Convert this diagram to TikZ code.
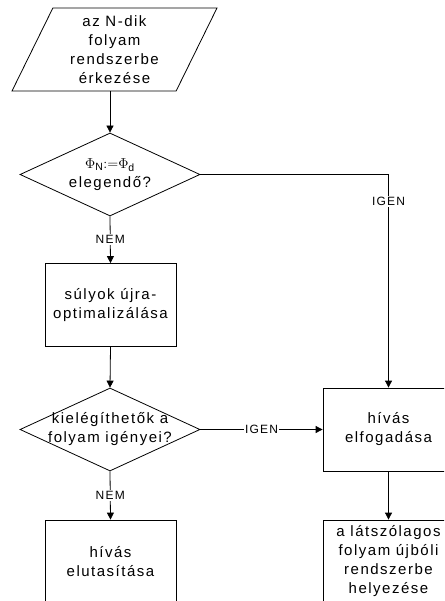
\documentclass[tikz,border=0pt]{standalone}
\usepackage{fontspec}
\setmainfont{Liberation Sans}[LetterSpace=10]
\usetikzlibrary{shapes.geometric,arrows.meta}
\begin{document}
\begin{tikzpicture}[x=1pt, y=-1pt, line width=.8pt, >={Triangle[length=7pt,width=7pt]},
  txt/.style={align=center, font=\fontsize{15}{19}\selectfont},
  box/.style={draw, txt, minimum width=131pt, minimum height=83pt, inner sep=0pt},
  dont/.style={draw, diamond, minimum width=180pt, minimum height=83pt, inner sep=0pt},
  lbl/.style={fill=white, inner sep=1.5pt, font=\fontsize{12}{14}\selectfont}]
  \clip (0,0) rectangle (444,601);
  % bemenet
  \node[draw, trapezium, trapezium left angle=59, trapezium right angle=121,
    trapezium stretches body, minimum width=205pt, minimum height=83pt,
    inner sep=0pt, txt] (erk) at (114.5,49.5) {az N-dik\\folyam\\rendszerbe\\érkezése};
  % dontesek es lepesek
  \node[dont] (q1) at (110,174.5) {};
  \node[txt] (q1t) at (q1) {$\Phi_{\mathrm{N}}{:=}\Phi_{\mathrm{d}}$\\elegendő?};
  \node[box] (opt) at (110.5,305) {súlyok újra-\\optimalizálása};
  \node[dont] (q2) at (110,429.5) {};
  \node[txt] (q2t) at (q2) {kielégíthetők a\\folyam igényei?};
  \node[box] (acc) at (388.5,429.5) {hívás\\elfogadása};
  \node[box] (rej) at (110.5,561.5) {hívás\\elutasítása};
  \node[box] (reins) at (388.5,561.5) {a látszólagos\\folyam újbóli\\rendszerbe\\helyezése};
  % nyilak
  \draw[->] (erk.south -| q1.north) -- (q1.north);
  \draw[->] (q1.south) -- node[lbl] {NEM} (opt.north);
  \draw[->] (q1.east) -| node[lbl, pos=.563] {IGEN} (acc.north);
  \draw[->] (opt.south) -- (q2.north);
  \draw[->] (q2.east) -- node[lbl] {IGEN} (acc.west);
  \draw[->] (q2.south) -- node[lbl] {NEM} (rej.north);
  \draw[->] (acc.south) -- (reins.north);
\end{tikzpicture}
\end{document}
